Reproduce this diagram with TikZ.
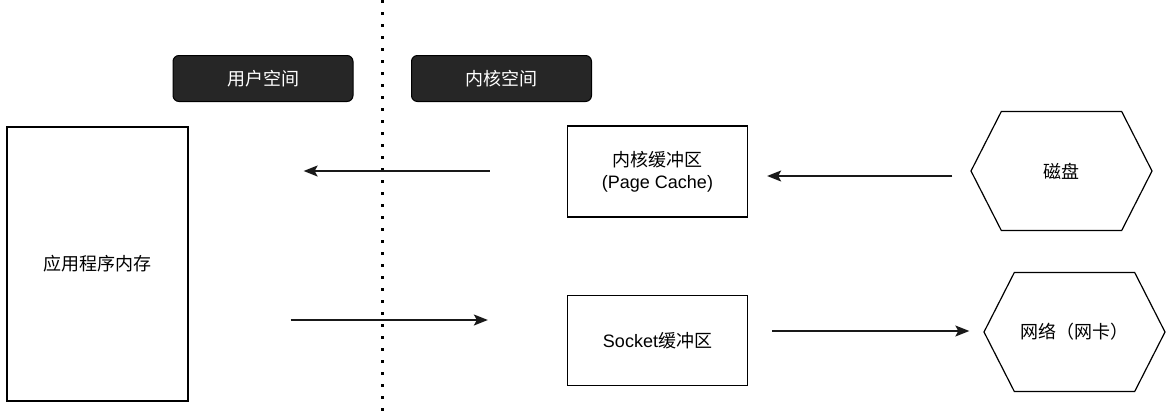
\documentclass[tikz,border=0pt]{standalone}
\usepackage{fontspec}
\setmainfont{Liberation Sans}
\newfontfamily\cjk{Noto Sans CJK SC}
\usetikzlibrary{calc,arrows.meta,shapes.symbols}
\definecolor{darkfill}{HTML}{262626}
\definecolor{edge}{HTML}{000000}
\tikzset{
  lab/.style={text=black, font=\fontsize{18}{22}\selectfont, align=center},
  spaceBox/.style={draw=edge, fill=darkfill, rounded corners=6pt, line width=1pt,
    minimum width=180pt, minimum height=46pt, inner sep=0pt, text=white,
    font=\fontsize{18}{22}\selectfont\cjk},
  memBox/.style={lab, draw=edge, line width=1.3pt, inner sep=0pt},
  devHex/.style={lab, draw=edge, line width=1.2pt, signal, signal to=east and west,
    signal pointer angle=126, minimum width=181pt, minimum height=119pt, inner sep=0pt},
  flowArrow/.style={line width=1.5pt, draw=black!90, -{Stealth[length=14pt,width=11pt,inset=3pt]}},
  sepLine/.style={line width=3pt, dash pattern=on 3pt off 9pt}
}
\begin{document}
\begin{tikzpicture}[x=1pt,y=-1pt]
\useasboundingbox (0,0) rectangle (1173,415);
% user / kernel divide
\coordinate (sepTop) at (382,0);
\coordinate (sepBot) at (382,415);
\draw[sepLine] (sepTop) -- (sepBot);
\node[spaceBox] (user) at (263,78.5) {用户空间};
\node[spaceBox] (kernel) at (501.5,78.5) {内核空间};
% buffers
\node[memBox, minimum width=181pt, minimum height=274pt] (app) at (97.5,264) {\cjk 应用程序内存};
\node[memBox, minimum width=180pt, minimum height=91pt] (cache) at (657.5,171.5) {{\cjk 内核缓冲区}\\(Page Cache)};
\node[memBox, minimum width=180pt, minimum height=90pt] (socket) at (657.5,340.5) {Socket{\cjk 缓冲区}};
% devices
\node[devHex] (disk) at (1061.5,171) {\cjk 磁盘};
\node[devHex] (net) at (1074.5,332) {\cjk 网络（网卡）};
% data flow
\draw[flowArrow, shorten <=77pt, shorten >=115pt] ($(cache.west)+(0,-0.5)$) -- ($(cache.west -| app.east)+(0,-0.5)$);
\draw[flowArrow, shorten <=102pt, shorten >=79pt] ($(app.east |- socket.west)+(0,-20.5)$) -- ($(socket.west)+(0,-20.5)$);
\draw[flowArrow, shorten <=18pt, shorten >=19pt] ($(disk.west)+(0,5)$) -- ($(disk.west -| cache.east)+(0,5)$);
\draw[flowArrow, shorten <=24pt, shorten >=14pt] ($(net.west -| socket.east)+(0,-1)$) -- ($(net.west)+(0,-1)$);
\end{tikzpicture}
\end{document}
